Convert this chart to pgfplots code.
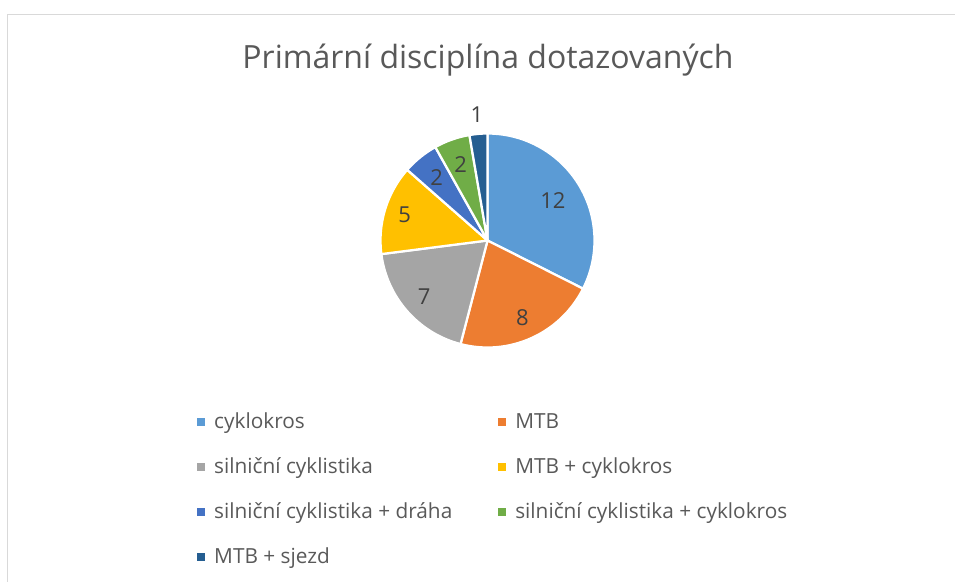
\documentclass[border=0pt]{standalone}
\usepackage{fontspec}
\setmainfont{Open Sans}
\usepackage{pgfplots}
\usepackage{pgfplotstable}
\pgfplotsset{compat=1.18}
\definecolor{pie0}{HTML}{5B9BD5}
\definecolor{pie1}{HTML}{ED7D31}
\definecolor{pie2}{HTML}{A5A5A5}
\definecolor{pie3}{HTML}{FFC000}
\definecolor{pie4}{HTML}{4472C4}
\definecolor{pie5}{HTML}{70AD47}
\definecolor{pie6}{HTML}{255E91}
\definecolor{txt}{HTML}{595959}
\definecolor{lbl}{HTML}{404040}
\definecolor{frm}{HTML}{D9D9D9}

\pgfplotstableread[col sep=comma]{
name,value,lr
cyklokros,12,0.717
MTB,8,0.79
silniční cyklistika,7,0.79
MTB + cyklokros,5,0.81
silniční cyklistika + dráha,2,0.755
silniční cyklistika + cyklokros,2,0.75
MTB + sjezd,1,1.18
}\piedata

\begin{document}
\begin{tikzpicture}
\path[use as bounding box] (0pt,0pt) rectangle (955pt,-581pt);
\draw[frm, line width=1pt] (7.5pt,-600pt) -- (7.5pt,-14.5pt) -- (980pt,-14.5pt);
\node[anchor=base, text=txt, font=\fontsize{32}{38}\selectfont] at (488pt,-68pt) {Primární disciplína dotazovaných};
\begin{axis}[at={(0pt,0pt)}, anchor=north west, x=1pt, y=1pt,
  xmin=-487.5, xmax=467.5, ymin=-340.5, ymax=240.5, hide axis, clip=false,
  legend columns=2, legend cell align=left,
  legend image code/.code={\fill[#1,draw=none] (0pt,-4pt) rectangle (8pt,4pt);},
  legend style={draw=none, fill=none, inner sep=0pt, at={(0.2063,0.2914)}, anchor=north west,
    font=\fontsize{20.8}{25}\selectfont, text=txt, row sep=25pt,
    nodes={inner sep=0pt, text height=17pt, text depth=3pt, text=txt},
    /tikz/every odd column/.append style={column sep=9pt},
    /tikz/every even column/.append style={column sep=46pt}},
]
\pgfmathsetmacro\R{107}
\def\total{0}
\pgfplotsforeachungrouped \i in {0,...,6}{%
  \pgfplotstablegetelem{\i}{value}\of\piedata
  \pgfmathsetmacro\total{\total+\pgfplotsretval}%
}
\def\cum{0}
\pgfplotsforeachungrouped \i in {0,...,6}{%
  \pgfplotstablegetelem{\i}{value}\of\piedata \let\pv\pgfplotsretval
  \pgfplotstablegetelem{\i}{name}\of\piedata \let\pn\pgfplotsretval
  \pgfplotstablegetelem{\i}{lr}\of\piedata \let\plr\pgfplotsretval
  \pgfmathsetmacro\sa{90-360*\cum/\total}%
  \pgfmathsetmacro\ea{90-360*(\cum+\pv)/\total}%
  \pgfmathsetmacro\ma{(\sa+\ea)/2}%
  \pgfmathsetmacro\xs{\R*cos(\sa)}%
  \pgfmathsetmacro\ys{\R*sin(\sa)}%
  \pgfmathsetmacro\lx{\plr*\R*cos(\ma)}%
  \pgfmathsetmacro\ly{\plr*\R*sin(\ma)}%
  \pgfmathsetmacro\cum{\cum+\pv}%
  \edef\temp{\noexpand\addplot[fill=pie\i, draw=white, line width=2.25pt, line join=round] coordinates {(0,0) (\xs,\ys)} arc[start angle=\sa, end angle=\ea, radius=\R pt] -- cycle;
    \noexpand\addlegendentry{\pn}
    \noexpand\node[text=lbl, font=\noexpand\fontsize{22}{27}\noexpand\selectfont] at (axis cs:\lx,\ly) {\pv};}%
  \temp
}
\end{axis}
\end{tikzpicture}
\end{document}
